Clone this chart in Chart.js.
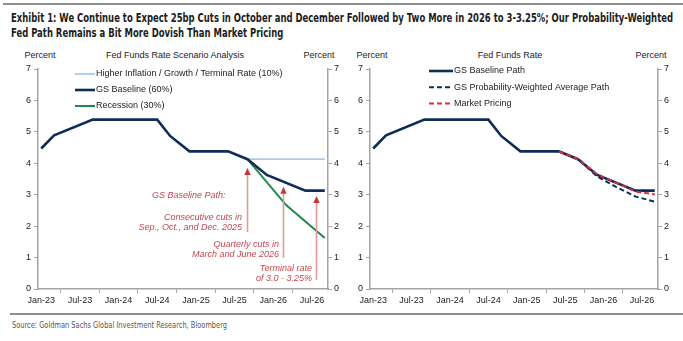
<!DOCTYPE html>
<html>
<head>
<meta charset="utf-8">
<script src="https://cdn.jsdelivr.net/npm/chart.js@4.4.1/dist/chart.umd.min.js"></script>
<style>
  body { margin: 0; background: #fff; }
  #page { position: relative; width: 683px; height: 341px; overflow: hidden; font-family: "Liberation Sans", Arial, sans-serif; }
  .rule { position: absolute; height: 2px; background: #8f8f8f; }
  .fit { position: absolute; white-space: nowrap; transform-origin: 0 0; font-family: "Liberation Sans Narrow", "DejaVu Sans Condensed", sans-serif; }
  .title { font-weight: bold; font-size: 12.5px; color: #1c1c1c; }
  .lbl { position: absolute; font-size: 9px; color: #222; white-space: nowrap; transform: translateX(-50%); }
  .note { position: absolute; font-size: 9px; font-style: italic; color: #c4464d; white-space: nowrap; line-height: 9.5px; }
  .note.r { transform: translateX(-100%); text-align: right; }
  #source { font-size: 9px; color: #555; }
  .box { position: absolute; top: 45px; height: 265px; }
</style>
</head>
<body>
<div id="page">
  <div class="rule" style="left:3px; top:3px; width:680px;"></div>
  <div class="fit title" id="t1" data-w="662" style="left:11px; top:10px;">Exhibit 1: We Continue to Expect 25bp Cuts in October and December Followed by Two More in 2026 to 3-3.25%; Our Probability-Weighted</div>
  <div class="fit title" id="t2" data-ref="t1" style="left:11px; top:25px;">Fed Path Remains a Bit More Dovish Than Market Pricing</div>

  <div class="lbl" style="left:40px; top:50px;">Percent</div>
  <div class="lbl" style="left:175px; top:50px;">Fed Funds Rate Scenario Analysis</div>
  <div class="lbl" style="left:319px; top:50px;">Percent</div>
  <div class="lbl" style="left:372px; top:50px;">Percent</div>
  <div class="lbl" style="left:510px; top:50px;">Fed Funds Rate</div>
  <div class="lbl" style="left:651px; top:50px;">Percent</div>

  <div class="box" style="left:0; width:340px;"><canvas id="left"></canvas></div>
  <div class="box" style="left:340px; width:343px;"><canvas id="right"></canvas></div>

  <div class="note" style="left:152px; top:191px;">GS Baseline Path:</div>
  <div class="note r" style="left:242px; top:213px;">Consecutive cuts in<br>Sep., Oct., and Dec. 2025</div>
  <div class="note r" style="left:279px; top:240px;">Quarterly cuts in<br>March and June 2026</div>
  <div class="note r" style="left:312px; top:264px;">Terminal rate<br>of 3.0 - 3.25%</div>

  <div class="rule" style="left:10px; top:313px; width:673px;"></div>
  <div class="fit" id="source" data-w="215" style="left:12px; top:320px;">Source: Goldman Sachs Global Investment Research, Bloomberg</div>
</div>

<script>
const months = [
  'Jan-23', 'Feb-23', 'Mar-23', 'Apr-23', 'May-23', 'Jun-23', 'Jul-23', 'Aug-23', 'Sep-23', 'Oct-23', 'Nov-23', 'Dec-23',
  'Jan-24', 'Feb-24', 'Mar-24', 'Apr-24', 'May-24', 'Jun-24', 'Jul-24', 'Aug-24', 'Sep-24', 'Oct-24', 'Nov-24', 'Dec-24',
  'Jan-25', 'Feb-25', 'Mar-25', 'Apr-25', 'May-25', 'Jun-25', 'Jul-25', 'Aug-25', 'Sep-25', 'Oct-25', 'Nov-25', 'Dec-25',
  'Jan-26', 'Feb-26', 'Mar-26', 'Apr-26', 'May-26', 'Jun-26', 'Jul-26', 'Aug-26', 'Sep-26'
];
const yTicks = [0, 1, 2, 3, 4, 5, 6, 7];

// turning points of each path (month, percent); straight segments in between
const baselineMonths = ['Jan-23', 'Mar-23', 'Sep-23', 'Jul-24', 'Sep-24', 'Dec-24', 'Jun-25', 'Sep-25', 'Dec-25', 'Jun-26', 'Sep-26'];
const baselineRates = [4.47, 4.89, 5.39, 5.39, 4.87, 4.38, 4.38, 4.13, 3.63, 3.13, 3.13];

const higherMonths = ['Sep-25', 'Sep-26'];
const higherRates = [4.13, 4.13];

const recessionMonths = ['Sep-25', 'Mar-26', 'Sep-26'];
const recessionRates = [4.13, 2.67, 1.62];

const weightedMonths = ['Jun-25', 'Sep-25', 'Dec-25', 'Mar-26', 'Jun-26', 'Sep-26'];
const weightedRates = [4.38, 4.13, 3.58, 3.24, 2.94, 2.78];

const marketMonths = ['Jun-25', 'Sep-25', 'Dec-25', 'Mar-26', 'Jun-26', 'Sep-26'];
const marketRates = [4.38, 4.13, 3.65, 3.38, 3.10, 3.01];

// annotation arrows: month position, from / to in percent
const arrows = [
  { month: 32, from: 1.81, to: 3.85 },
  { month: 37.5, from: 0.99, to: 3.25 },
  { month: 42.7, from: 0.29, to: 2.96 }
];

const NAVY = '#0f2d57';
const GREEN = '#1f8a4c';
const LIGHT = '#a8cbea';
const RED = '#d3313c';
const AXIS = '#a3a3a3';

// squeeze the condensed texts to the reference widths
const scales = {};
document.querySelectorAll('.fit').forEach(el => {
  if (el.dataset.w) {
    scales[el.id] = Number(el.dataset.w) / el.getBoundingClientRect().width;
  }
});
document.querySelectorAll('.fit').forEach(el => {
  const k = scales[el.id] || scales[el.dataset.ref] || 1;
  el.style.transform = 'scaleX(' + k + ')';
});

function points(ms, vals) {
  return ms.map((m, i) => ({ x: m, y: vals[i] }));
}

Chart.defaults.font.family = '"Liberation Sans", Arial, sans-serif';
Chart.defaults.font.size = 9;
Chart.defaults.color = '#222';
Chart.defaults.animation = false;

const legendPlugin = {
  id: 'boxLegend',
  afterDraw(chart, args, opts) {
    const ctx = chart.ctx;
    ctx.save();
    ctx.font = '9px "Liberation Sans", Arial, sans-serif';
    ctx.textBaseline = 'middle';
    ctx.fillStyle = '#222';
    opts.items.forEach((idx, row) => {
      const ds = chart.data.datasets[idx];
      const y = opts.y + row * opts.gap;
      ctx.strokeStyle = ds.borderColor;
      ctx.lineWidth = ds.borderWidth;
      ctx.setLineDash(ds.borderDash || []);
      ctx.beginPath();
      ctx.moveTo(opts.x, y);
      ctx.lineTo(opts.x + opts.len, y);
      ctx.stroke();
      ctx.setLineDash([]);
      ctx.fillText(ds.label, opts.x + opts.len + 1, y);
    });
    ctx.restore();
  }
};

const arrowPlugin = {
  id: 'arrows',
  afterDatasetsDraw(chart, args, opts) {
    if (!opts.items) return;
    const ctx = chart.ctx;
    const xs = chart.scales.x;
    const ys = chart.scales.y;
    ctx.save();
    opts.items.forEach(a => {
      const x = Math.round(xs.getPixelForValue(a.month)) + 0.5;
      const y0 = ys.getPixelForValue(a.from);
      const y1 = ys.getPixelForValue(a.to);
      ctx.strokeStyle = '#e29a9a';
      ctx.lineWidth = 1.6;
      ctx.beginPath();
      ctx.moveTo(x, y0);
      ctx.lineTo(x, y1 + 5);
      ctx.stroke();
      ctx.fillStyle = '#c8343c';
      ctx.beginPath();
      ctx.moveTo(x, y1);
      ctx.lineTo(x - 3.2, y1 + 7);
      ctx.lineTo(x + 3.2, y1 + 7);
      ctx.closePath();
      ctx.fill();
    });
    ctx.restore();
  }
};

function makeOptions(leftW, rightW, legend, arrowItems) {
  const yBase = {
    min: 0,
    max: 7,
    afterBuildTicks: s => { s.ticks = yTicks.map(v => ({ value: v })); },
    grid: { drawOnChartArea: false, color: AXIS, tickLength: 4, lineWidth: 1 },
    border: { color: AXIS, width: 1.5 },
    ticks: { padding: 3, color: '#222' }
  };
  return {
    responsive: false,
    maintainAspectRatio: false,
    layout: { padding: { top: 24, left: 0, right: 0, bottom: 0 } },
    elements: { point: { radius: 0 }, line: { tension: 0 } },
    plugins: {
      legend: { display: false },
      tooltip: { enabled: false },
      boxLegend: legend,
      arrows: { items: arrowItems }
    },
    scales: {
      x: {
        type: 'category',
        offset: true,
        grid: { offset: true, drawOnChartArea: false, color: AXIS, tickLength: 4 },
        border: { color: AXIS, width: 1.5 },
        ticks: {
          autoSkip: false,
          maxRotation: 0,
          padding: 2,
          color: '#222',
          callback: (v, i) => (i % 6 === 0 ? months[i] : null)
        },
        afterFit: s => { s.height = 21; }
      },
      y: Object.assign({}, yBase, { position: 'left', afterFit: s => { s.width = leftW; } }),
      y2: Object.assign({}, yBase, { position: 'right', ticks: { padding: 2, color: '#222' }, afterFit: s => { s.width = rightW; } })
    }
  };
}

function sizeCanvas(id, w, h) {
  const c = document.getElementById(id);
  c.width = w;
  c.height = h;
  c.style.width = w + 'px';
  c.style.height = h + 'px';
  return c;
}

new Chart(sizeCanvas('left', 340, 265), {
  type: 'line',
  data: {
    labels: months,
    datasets: [
      { label: 'Higher Inflation / Growth / Terminal Rate (10%)', data: points(higherMonths, higherRates), borderColor: LIGHT, borderWidth: 1.8, spanGaps: true, order: 3 },
      { label: 'GS Baseline (60%)', data: points(baselineMonths, baselineRates), borderColor: NAVY, borderWidth: 2.6, spanGaps: true, order: 1 },
      { label: 'Recession (30%)', data: points(recessionMonths, recessionRates), borderColor: GREEN, borderWidth: 2, spanGaps: true, order: 2 }
    ]
  },
  options: makeOptions(38, 12, { items: [0, 1, 2], x: 75, y: 29, gap: 16, len: 20 }, arrows),
  plugins: [legendPlugin, arrowPlugin]
});

new Chart(sizeCanvas('right', 343, 265), {
  type: 'line',
  data: {
    labels: months,
    datasets: [
      { label: 'GS Baseline Path', data: points(baselineMonths, baselineRates), borderColor: NAVY, borderWidth: 2.6, spanGaps: true, order: 3 },
      { label: 'GS Probability-Weighted Average Path', data: points(weightedMonths, weightedRates), borderColor: NAVY, borderWidth: 2, borderDash: [5, 3], spanGaps: true, order: 2 },
      { label: 'Market Pricing', data: points(marketMonths, marketRates), borderColor: RED, borderWidth: 2, borderDash: [5, 3], spanGaps: true, order: 1 }
    ]
  },
  options: makeOptions(30, 25, { items: [0, 1, 2], x: 89, y: 26, gap: 16.3, len: 24 }, null),
  plugins: [legendPlugin, arrowPlugin]
});
</script>
</body>
</html>
